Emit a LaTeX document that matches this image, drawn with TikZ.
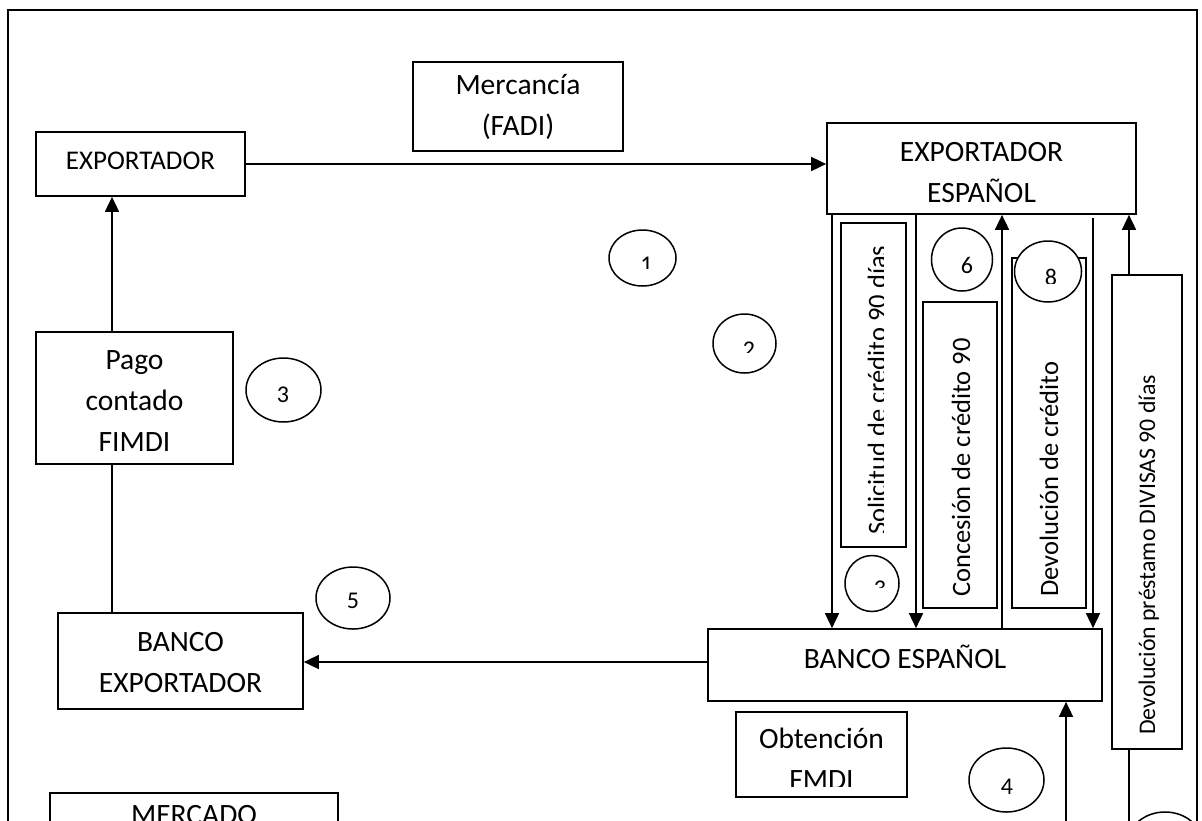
\documentclass[tikz,border=0pt]{standalone}
\usepackage{fontspec}
\setmainfont{Carlito}
\usetikzlibrary{arrows.meta,shapes.geometric}
\newcommand\tbx[2]{\raisebox{#1}[\height][\depth]{\begin{tabular}{@{}c@{}}#2\end{tabular}}}
\begin{document}
\begin{tikzpicture}[x=1pt,y=-1pt,
  box/.style={draw,line width=1.7pt,inner sep=0pt,font=\fontsize{29.5}{41}\selectfont},
  arr/.style={line width=1.7pt,-{Triangle[length=15pt,width=14pt]}},
  ln/.style={line width=1.7pt},
  circ/.style={draw,ellipse,line width=1.5pt,inner sep=0pt,fill=white},
  num/.style={inner sep=0pt,anchor=north,font=\fontsize{24}{24}\selectfont},
  vtxt/.style={rotate=90,anchor=base west,inner sep=0pt,font=\fontsize{26.5}{27}\selectfont}]
\useasboundingbox (0,0) rectangle (1202,820);
\clip (0,0) rectangle (1202,820);
\draw[line width=1.8pt] (8,10) rectangle (1197,860);

% helper coordinates
\coordinate (xa) at (112,0);
\coordinate (yb) at (0,662);
\coordinate (x1) at (832,0);
\coordinate (x2) at (916,0);
\coordinate (x3) at (1002,0);
\coordinate (x4) at (1093,0);
\coordinate (x5) at (1129,0);
\coordinate (b1) at (1066,830);
\coordinate (b2) at (1129,830);

% boxes
\node[box,minimum width=209pt,minimum height=64pt,font=\fontsize{27}{36}\selectfont] (exp) at (140.5,164) {\tbx{2pt}{EXPORTADOR}};
\node[box,minimum width=210pt,minimum height=89pt] (merc) at (518,106.5) {\tbx{0pt}{Mercancía\\(FADI)}};
\node[box,minimum width=309pt,minimum height=91pt] (ee) at (981.5,168.5) {\tbx{-5pt}{EXPORTADOR\\ESPAÑOL}};
\node[box,minimum width=197pt,minimum height=132pt] (pago) at (134.5,398) {\tbx{-4pt}{Pago\\contado\\FIMDI}};
\node[box,minimum width=245pt,minimum height=96pt] (bex) at (180.5,661) {\tbx{-3pt}{BANCO\\EXPORTADOR}};
\node[box,minimum width=394pt,minimum height=72pt] (be) at (905,665) {\tbx{5pt}{BANCO ESPAÑOL}};
\node[box,minimum width=288pt,minimum height=80pt] (mk) at (194,833) {\tbx{17pt}{MERCADO}};
\node[box,minimum width=171pt,minimum height=85pt] (obt) at (821.5,754.5) {};
\begin{scope}
  \clip (737,713) rectangle (906,786);
  \node[inner sep=0pt,font=\fontsize{29.5}{41}\selectfont] (obtt) at (obt.center) {\tbx{-6pt}{Obtención\\FMDI}};
\end{scope}

% vertical boxes
\node[box,minimum width=65pt,minimum height=324pt] (solb) at (873.5,385) {};
\node[box,minimum width=74pt,minimum height=306pt] (conb) at (960,455) {};
\node[box,minimum width=74pt,minimum height=350pt] (devb) at (1049,433) {};
\node[box,minimum width=70pt,minimum height=474pt] (dprb) at (1147,512) {};

\begin{scope}
  \clip (842,224) rectangle (883.5,546);
  \node[vtxt] (solt) at (886,535) {Solicitud de crédito 90 días};
\end{scope}
\node[vtxt] (cont) at (970,597) {Concesión de crédito 90};
\node[vtxt] (devt) at (1058,597) {Devolución de crédito};
\node[vtxt,font=\fontsize{23.8}{24}\selectfont] (dprt) at (1155,735) {Devolución préstamo DIVISAS 90 días};

% connectors
\draw[arr] (exp.east) -- (exp.east -| ee.west);
\draw[arr] (pago.north -| xa) -- (exp.south -| xa);
\draw[ln] (pago.south -| xa) -- (bex.north -| xa);
\draw[arr] (be.west |- yb) -- (bex.east |- yb);
\draw[arr] (ee.south -| x1) -- (be.north -| x1);
\draw[arr] (ee.south -| x2) -- (be.north -| x2);
\draw[arr] (be.north -| x3) -- (ee.south -| x3);
\draw[arr] ([yshift=-3pt]ee.south -| x4) -- (be.north -| x4);
\draw[arr] (dprb.north -| x5) -- (ee.south -| x5);
\draw[ln] (dprb.south -| x5) -- (b2);
\draw[arr] (b1) -- (be.south -| b1);

% circles
\node[circ,minimum width=67pt,minimum height=56pt] (c1) at (642.5,258) {};
\node[circ,minimum width=63pt,minimum height=59pt] (c2) at (744.5,343.5) {};
\node[circ,minimum width=75pt,minimum height=64pt] (c3) at (283.5,390) {};
\node[circ,minimum width=74pt,minimum height=62pt] (c5) at (353,598) {};
\node[circ,minimum width=61pt,minimum height=63pt] (c6) at (962,259.5) {};
\node[circ,minimum width=67pt,minimum height=61pt] (c8) at (1048,271.5) {};
\node[circ,minimum width=54pt,minimum height=56pt] (c7) at (872,583.5) {};
\node[circ,minimum width=75pt,minimum height=64pt] (c4) at (1006.5,780) {};
\node[circ,minimum width=74pt,minimum height=62pt] (c9) at (1165,843) {};

% numbers
\begin{scope}\clip (600,240) rectangle (700,268);
  \node[num] (n1) at (646.5,257) {1};\end{scope}
\begin{scope}\clip (700,320) rectangle (800,352);
  \node[num] (n2) at (749,342) {2};\end{scope}
\node[num] (n3) at (283,387) {3};
\node[num] (n5) at (353,593) {5};
\node[num] (n6) at (967,257) {6};
\begin{scope}\clip (1010,250) rectangle (1080,283.5);
  \node[num] (n8) at (1051,269) {8};\end{scope}
\node[num] (n4) at (1007,779) {4};
\begin{scope}\clip (850,560) rectangle (895,587.5);
  \node[num] (n7) at (880,580.5) {3};\end{scope}
\end{tikzpicture}
\end{document}
